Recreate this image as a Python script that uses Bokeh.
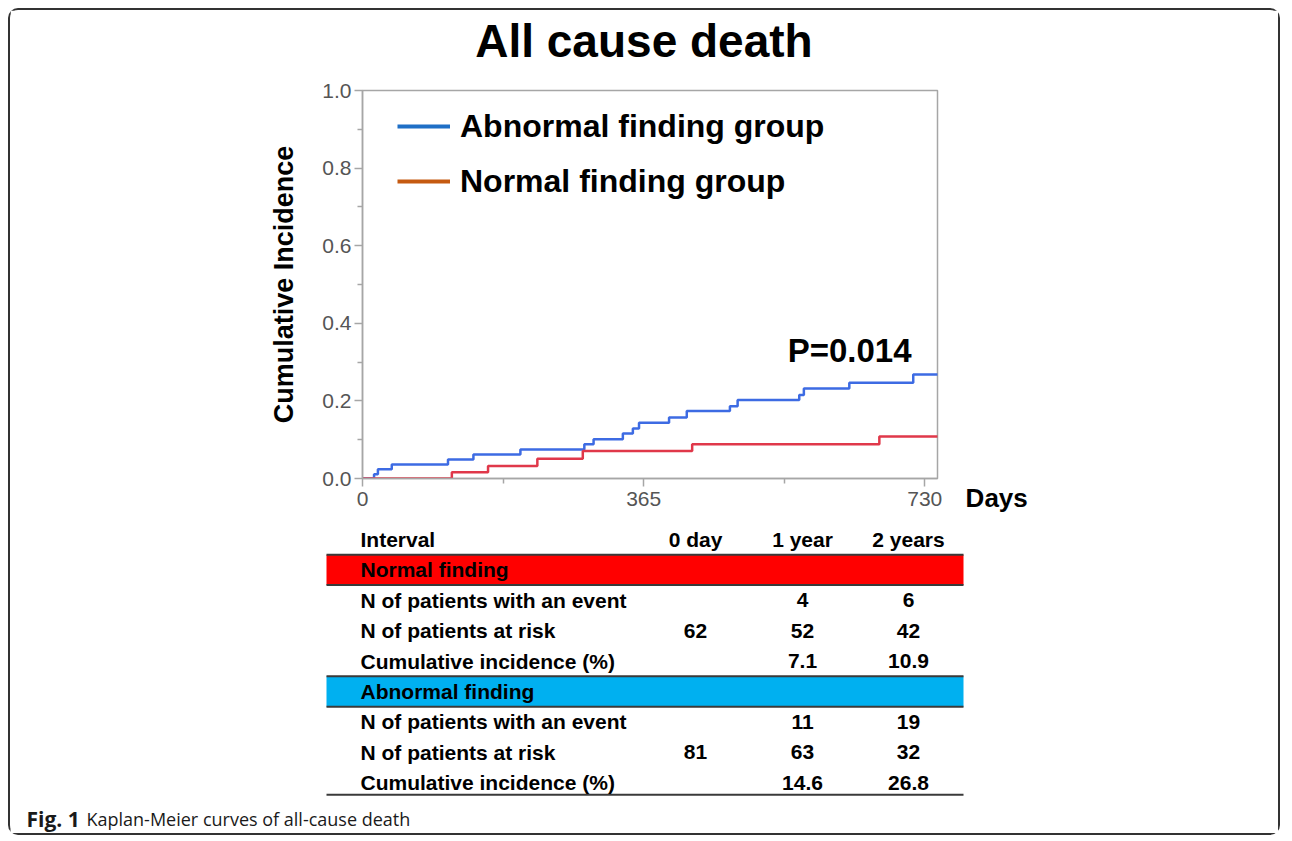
from bokeh.plotting import figure
from bokeh.models import Range1d, FixedTicker, PrintfTickFormatter, Label, Legend, LegendItem
from bokeh.embed import file_html
from bokeh.resources import INLINE
from bokeh.core.properties import value

# ---------------- data ----------------
abn_days = [0, 15, 20, 38, 111, 144, 205, 288, 300, 338, 351, 359, 398, 421, 477, 487, 567, 573, 632, 715, 747]
abn_inc = [0.0, 0.011, 0.024, 0.036, 0.049, 0.062, 0.075, 0.088, 0.101, 0.116, 0.129, 0.144,
           0.157, 0.174, 0.186, 0.202, 0.215, 0.232, 0.247, 0.268, 0.268]
nor_days = [0, 116, 163, 227, 286, 428, 671, 747]
nor_inc = [0.0, 0.016, 0.032, 0.051, 0.071, 0.088, 0.108, 0.108]

x_ticks = [0, 365, 730]
x_minor = [182.5, 547.5]
y_ticks = [0.0, 0.2, 0.4, 0.6, 0.8, 1.0]
y_minor = [0.1, 0.3, 0.5, 0.7, 0.9]

title_text = "All cause death"
legend_labels = ["Abnormal finding group", "Normal finding group"]
p_value_text = "P=0.014"
x_title = "Days"
y_title = "Cumulative Incidence"

header = ["Interval", "0 day", "1 year", "2 years"]
groups = ["Normal  finding", "Abnormal   finding"]
row_labels = ["N of patients with an event", "N of patients at risk", "Cumulative incidence (%)"]
normal_vals = [["", "4", "6"], ["62", "52", "42"], ["", "7.1", "10.9"]]
abnormal_vals = [["", "11", "19"], ["81", "63", "32"], ["", "14.6", "26.8"]]
caption_bold = "Fig. 1"
caption_rest = "Kaplan-Meier curves of all-cause death"

# ---------------- styles ----------------
BLUE = "#3D6BE3"
RED = "#E0384A"
LEG_BLUE = "#1F6FC6"
LEG_RED = "#C55A11"
AX = "#A6A6A6"
FONT = "Liberation Sans"
BORDER = "2px solid #333333"

W = 1272
H1 = 515

p = figure(width=W, height=H1, x_range=Range1d(0, 746.5), y_range=Range1d(0, 1.0),
           output_backend="svg", toolbar_location=None,
           min_border_left=352, min_border_right=345, min_border_top=80, min_border_bottom=47,
           margin=(8, 0, 0, 8),
           styles={"border-top": BORDER, "border-left": BORDER, "border-right": BORDER,
                   "border-top-left-radius": "10px", "border-top-right-radius": "10px"})
p.grid.visible = False
p.outline_line_color = AX
p.outline_line_width = 1.5
p.background_fill_color = "white"
p.border_fill_color = "white"

p.xaxis.ticker = FixedTicker(ticks=x_ticks, minor_ticks=x_minor)
p.yaxis.ticker = FixedTicker(ticks=y_ticks, minor_ticks=y_minor)
p.yaxis.formatter = PrintfTickFormatter(format="%.1f")
for ax in (p.xaxis, p.yaxis):
    ax.axis_line_color = AX
    ax.axis_line_width = 1.5
    ax.major_tick_line_color = AX
    ax.minor_tick_line_color = AX
    ax.major_tick_line_width = 1.5
    ax.minor_tick_line_width = 1.5
    ax.major_tick_in = 0
    ax.major_tick_out = 8
    ax.minor_tick_in = 0
    ax.minor_tick_out = 5
    ax.major_label_text_font = FONT
    ax.major_label_text_font_size = "21px"
    ax.major_label_text_color = "#555555"
    ax.major_label_standoff = 3
p.xaxis.major_label_standoff = 5
p.yaxis.axis_label = y_title
p.yaxis.axis_label_text_font = FONT
p.yaxis.axis_label_text_font_style = "bold"
p.yaxis.axis_label_text_font_size = "27px"
p.yaxis.axis_label_text_color = "black"
p.yaxis.axis_label_standoff = 20

p.step(abn_days, abn_inc, mode="after", line_color=BLUE, line_width=2.5)
p.step(nor_days, nor_inc, mode="after", line_color=RED, line_width=2.5)

nan = float("nan")
r1 = p.line([nan], [nan], line_color=LEG_BLUE, line_width=4)
r2 = p.line([nan], [nan], line_color=LEG_RED, line_width=4)
legend = Legend(items=[LegendItem(label=legend_labels[0], renderers=[r1]),
                       LegendItem(label=legend_labels[1], renderers=[r2])],
                location=(35, 276), orientation="vertical",
                label_text_font=FONT, label_text_font_style="bold", label_text_font_size="32px",
                label_text_color="black",
                glyph_width=53, glyph_height=42, label_height=42, label_standoff=10,
                spacing=13, padding=0, margin=0,
                border_line_color=None, background_fill_alpha=0)
p.add_layout(legend)

p.add_layout(Label(x=552, y=0.330, text=p_value_text, text_font=FONT, text_font_style="bold",
                   text_font_size="33px", text_align="left", text_baseline="alphabetic",
                   text_color="black"))
# labels outside the frame live in side panels (not clipped)
p.add_layout(Label(x=365.4, y=1.127, text=title_text, text_font=FONT, text_font_style="bold",
                   text_font_size="46px", text_align="center", text_baseline="alphabetic",
                   text_color="black"), "above")
p.add_layout(Label(x=783, y=-0.051, text=x_title, text_font=FONT, text_font_style="bold",
                   text_font_size="26px", text_align="left", text_baseline="alphabetic",
                   text_color="black"), "right")

# ---------------- table ----------------
H2 = 312
ROW0 = 16.0     # px of first row centre
PITCH = 30.4    # px per row
t = figure(width=W, height=H2, x_range=Range1d(0, W),
           y_range=Range1d((H2 - ROW0) / PITCH, -ROW0 / PITCH),
           output_backend="svg", toolbar_location=None, min_border=0,
           x_axis_location=None, y_axis_location=None,
           margin=(0, 0, 0, 8),
           styles={"border-bottom": BORDER, "border-left": BORDER, "border-right": BORDER,
                   "border-bottom-left-radius": "10px", "border-bottom-right-radius": "10px"})
t.grid.visible = False
t.outline_line_color = None
t.background_fill_color = "white"
t.border_fill_color = "white"

TL, TR = 316, 953
LABEL_X = 350
COL_X = [685, 792, 898]

t.quad(left=[TL, TL], right=[TR, TR], top=[0.5, 4.5], bottom=[1.5, 5.5],
       fill_color=["#FF0000", "#00B0F0"], line_color=None)
t.segment(x0=[TL] * 5, x1=[TR] * 5, y0=[0.5, 1.5, 4.5, 5.5, 8.4], y1=[0.5, 1.5, 4.5, 5.5, 8.4],
          line_color="#3A3A3A", line_width=2)

xs, ys, txt, aligns = [], [], [], []
xs.append(LABEL_X); ys.append(0); txt.append(header[0]); aligns.append("left")
for j in range(3):
    xs.append(COL_X[j]); ys.append(0); txt.append(header[j + 1]); aligns.append("center")
for gi, (g, vals) in enumerate(zip(groups, [normal_vals, abnormal_vals])):
    base = 1 + gi * 4
    xs.append(LABEL_X); ys.append(base); txt.append(g); aligns.append("left")
    for ri, lab in enumerate(row_labels):
        xs.append(LABEL_X); ys.append(base + 1 + ri); txt.append(lab); aligns.append("left")
        for j in range(3):
            if vals[ri][j]:
                xs.append(COL_X[j]); ys.append(base + 1 + ri); txt.append(vals[ri][j]); aligns.append("center")

t.text(x=xs, y=ys, text=txt, text_align=aligns, text_baseline="middle",
       text_font=value(FONT), text_font_style="bold", text_font_size="21px", text_color="black")

t.text(x=[16], y=[9.19], text=[caption_bold], text_align="left", text_baseline="middle",
       text_font=value("Open Sans"), text_font_style="bold", text_font_size="21px", text_color="#1a1a1a")
t.text(x=[76], y=[9.19], text=[caption_rest], text_align="left", text_baseline="middle",
       text_font=value("Open Sans"), text_font_style="normal", text_font_size="18px", text_color="#1a1a1a")

open("out.html", "w").write(file_html([p, t], INLINE))
